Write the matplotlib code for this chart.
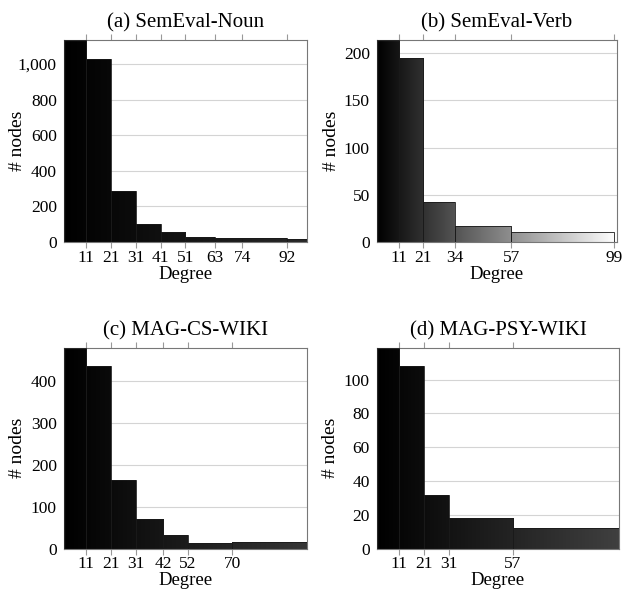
import numpy as np
import matplotlib
matplotlib.use('Agg')
import matplotlib.pyplot as plt
from matplotlib.colors import LinearSegmentedColormap
from matplotlib.ticker import FuncFormatter

plt.rcParams['font.family'] = ['Liberation Serif', 'DejaVu Serif']

# bin edges (degree) and counts per panel
noun_edges = [2, 11, 21, 31, 41, 51, 63, 74, 92, 100]
noun_counts = [1135, 1030, 287, 101, 54, 26, 21, 20, 15]

verb_edges = [2, 11, 21, 34, 57, 99]
verb_counts = [214, 195, 42, 17, 10]

cs_edges = [2, 11, 21, 31, 42, 52, 70, 100]
cs_counts = [480, 437, 164, 70, 33, 14, 16]

psy_edges = [2, 11, 21, 31, 57, 100]
psy_counts = [119, 108, 32, 18, 12]

titles = ['(a) SemEval-Noun', '(b) SemEval-Verb', '(c) MAG-CS-WIKI', '(d) MAG-PSY-WIKI']
xticks_list = [noun_edges[1:-1], verb_edges[1:], cs_edges[1:-1], psy_edges[1:-1]]
ymax_list = [1135, 214, 480, 119]
ystep_list = [200, 50, 100, 20]
end_colors = ['#282828', '#ffffff', '#363636', '#404040']

panels = [(noun_edges, noun_counts), (verb_edges, verb_counts),
          (cs_edges, cs_counts), (psy_edges, psy_counts)]

# axes rectangles [left, bottom, width, height] in figure fraction
rects = [[0.102, 0.590, 0.388, 0.342],
         [0.602, 0.590, 0.383, 0.342],
         [0.102, 0.070, 0.388, 0.341],
         [0.602, 0.070, 0.387, 0.341]]

fig = plt.figure(figsize=(6.26, 5.90), dpi=100)

for i, (edges, counts) in enumerate(panels):
    ax = fig.add_axes(rects[i])
    xmin, xmax = 2, 100
    ymax = ymax_list[i]

    bars = ax.bar(edges[:-1], counts, width=np.diff(edges), align='edge',
                  facecolor='none', edgecolor='#1a1a1a', linewidth=0.6, zorder=3)

    # horizontal gradient shading clipped to each bar
    cmap = LinearSegmentedColormap.from_list('g', ['#000000', end_colors[i]])
    grad = np.linspace(0, 1, 256).reshape(1, -1)
    for b in bars:
        im = ax.imshow(grad, cmap=cmap, extent=(xmin, xmax, 0, ymax),
                       aspect='auto', interpolation='bilinear', zorder=2)
        im.set_clip_path(b)

    ax.set_xlim(xmin, xmax)
    ax.set_ylim(0, ymax)
    ax.set_yticks(np.arange(0, ymax + 1, ystep_list[i]))
    ax.yaxis.set_major_formatter(FuncFormatter(lambda v, p: f'{int(v):,}'))
    ax.set_xticks(xticks_list[i])
    ax.grid(axis='y', color='#d4d4d4', linewidth=0.8, zorder=1)
    ax.set_axisbelow(True)

    ax.tick_params(axis='x', top=True, direction='out', length=4, color='#999999',
                   labelsize=12.5, pad=1.5)
    ax.tick_params(axis='y', length=0, labelsize=12.5, pad=5)
    for s in ax.spines.values():
        s.set_color('#777777')
        s.set_linewidth(0.8)

    ax.set_title(titles[i], fontsize=15, pad=9)
    ax.set_xlabel('Degree', fontsize=13.5, labelpad=0)
    ax.set_ylabel('# nodes', fontsize=14)
    ax.yaxis.set_label_coords(-0.155, 0.5)

fig.savefig('out.png', dpi=100)
